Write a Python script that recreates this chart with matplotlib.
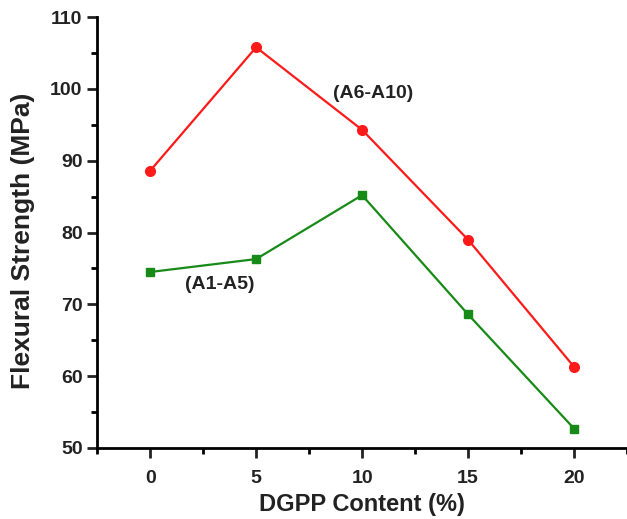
import matplotlib
matplotlib.use('Agg')
import matplotlib.pyplot as plt
from matplotlib.ticker import MultipleLocator

plt.rcParams['font.family'] = ['Liberation Sans', 'DejaVu Sans']
plt.rcParams['font.weight'] = 'bold'

dgpp = [0, 5, 10, 15, 20]
a6_a10 = [88.6, 105.8, 94.3, 79.0, 61.3]
a1_a5 = [74.5, 76.3, 85.2, 68.6, 52.7]


def plot_strength():
	fig = plt.figure(figsize=(6.27, 5.19), dpi=100)
	ax = fig.add_axes([0.155, 0.137, 0.845, 0.83])

	ax.plot(dgpp, a6_a10, color='#ff1a1a', lw=1.6, marker='o', ms=7)
	ax.plot(dgpp, a1_a5, color='#178a17', lw=1.6, marker='s', ms=6)

	ax.text(10.5, 99.3, '(A6-A10)', fontsize=14, fontweight='bold', color='#222222', ha='center', va='center')
	ax.text(3.3, 72.7, '(A1-A5)', fontsize=14, fontweight='bold', color='#222222', ha='center', va='center')

	ax.set_xlim(-2.5, 22.5)
	ax.set_ylim(50, 110)
	ax.xaxis.set_major_locator(MultipleLocator(5))
	ax.xaxis.set_minor_locator(MultipleLocator(2.5))
	ax.yaxis.set_major_locator(MultipleLocator(10))
	ax.yaxis.set_minor_locator(MultipleLocator(5))
	ax.spines['top'].set_visible(False)
	ax.spines['right'].set_visible(False)
	for s in ['left', 'bottom']:
		ax.spines[s].set_linewidth(2)
	ax.tick_params(which='major', direction='out', length=7, width=2, labelsize=14, colors='#222222')
	ax.tick_params(which='minor', direction='out', length=4, width=2)
	ax.tick_params(axis='x', which='major', pad=9)
	for lab in ax.get_xticklabels() + ax.get_yticklabels():
		lab.set_fontweight('bold')

	ax.set_xlabel('DGPP Content (%)', fontsize=17, fontweight='bold', color='#222222', labelpad=4)
	ax.set_ylabel('Flexural Strength (MPa)', fontsize=19, fontweight='bold', color='#222222', labelpad=11)
	ax.yaxis.label.set_y(0.48)
	fig.savefig('out.png', dpi=100)


if __name__ == '__main__':
	plot_strength()
